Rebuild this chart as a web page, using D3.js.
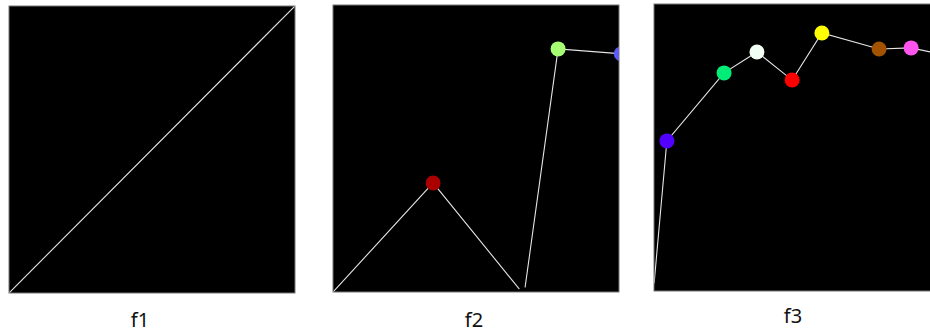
<!DOCTYPE html>
<html>
<head>
<meta charset="utf-8">
<script src="https://cdn.jsdelivr.net/npm/d3@7"></script>
<style>
    body { margin: 0; background: #fff; }
    svg { display: block; }
</style>
</head>
<body>
<svg id="chart" width="930" height="334"></svg>
<script>
// panel names
const panelNames = ['f1', 'f2', 'f3']

// x / y values of each panel (domain 0..100), and the dot colours
const f1X = [0, 100]
const f1Y = [0, 100]
const f1Colors = [null, null]

const f2X = [0, 35.0, 66.8, 78.7, 100.8]
const f2Y = [0, 38.0, -1.0, 84.7, 83.0]
const f2Colors = [null, '#aa0000', '#000000', '#a6ff73', '#5a5aff']

const f3X = [-0.2, 4.5, 24.5, 36.0, 48.3, 58.7, 78.7, 89.9, 100]
const f3Y = [0, 52.3, 76.0, 83.3, 73.5, 89.9, 84.3, 84.7, 82.6]
const f3Colors = ['#000000', '#5200ff', '#00ee77', '#f2fff4', '#ff0000', '#ffff00', '#a35200', '#ff55ee', '#00ffff']

class Panels {
    constructor(){
        this.svg = d3.select('#chart')

        this.viz = {
            width: 286,
            height: 287,
            radius: 7.5,
            left: [9, 333, 654],
            top: [6, 5, 4],
            labelX: [140, 474, 793],
            labelY: [327, 327, 323]
        }

        this.series = [
            {xs: f1X, ys: f1Y, colors: f1Colors},
            {xs: f2X, ys: f2Y, colors: f2Colors},
            {xs: f3X, ys: f3Y, colors: f3Colors}
        ]

        this.drawPanels()
    }

    drawPanels(){
        let that = this

        panelNames.forEach((name, i) => {
            let g = that.svg.append('g')
                .attr('transform', `translate(${that.viz.left[i]},${that.viz.top[i]})`)
            that.drawPanel(g, name, i)
        })
    }

    drawPanel(g, name, i){
        let s = this.series[i]
        let pts = s.xs.map((x, k) => ({x: x, y: s.ys[k], color: s.colors[k]}))

        let xScale = d3.scaleLinear()
            .domain([0, 100])
            .range([0, this.viz.width])

        let yScale = d3.scaleLinear()
            .domain([0, 100])
            .range([this.viz.height, 0])

        g.append('clipPath')
            .attr('id', 'clip-' + name)
            .append('rect')
            .attr('width', this.viz.width)
            .attr('height', this.viz.height)

        g.append('rect')
            .attr('width', this.viz.width)
            .attr('height', this.viz.height)
            .attr('fill', '#000')

        let inner = g.append('g')
            .attr('clip-path', `url(#clip-${name})`)

        let line = d3.line()
            .x(d => xScale(d.x))
            .y(d => yScale(d.y))

        inner.append('path')
            .datum(pts)
            .attr('d', line)
            .attr('fill', 'none')
            .attr('stroke', '#e6e6e6')
            .attr('stroke-width', 1.1)

        inner.selectAll('circle')
            .data(pts.filter(d => d.color))
            .join('circle')
            .attr('cx', d => xScale(d.x))
            .attr('cy', d => yScale(d.y))
            .attr('r', this.viz.radius)
            .attr('fill', d => d.color)

        // thin grey frame
        g.append('rect')
            .attr('width', this.viz.width)
            .attr('height', this.viz.height)
            .attr('fill', 'none')
            .attr('stroke', '#777')
            .attr('stroke-width', 1)

        g.append('text')
            .attr('x', this.viz.labelX[i] - this.viz.left[i])
            .attr('y', this.viz.labelY[i] - this.viz.top[i])
            .attr('text-anchor', 'middle')
            .attr('font-family', '"Noto Sans", sans-serif')
            .attr('font-size', 20)
            .attr('fill', '#111')
            .text(name)
    }
}

new Panels()
</script>
</body>
</html>
